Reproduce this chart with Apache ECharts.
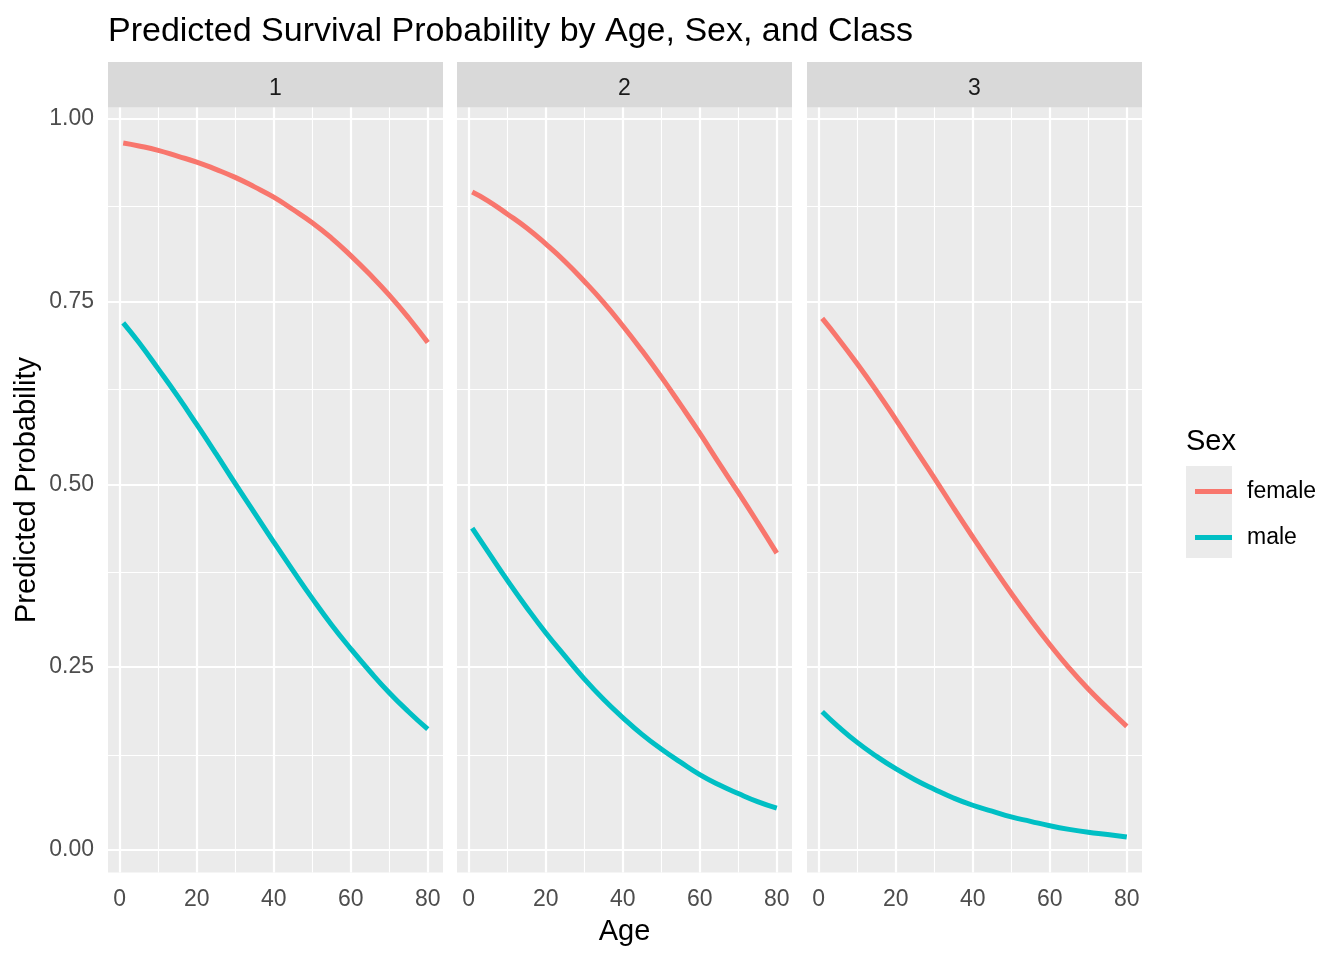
<!DOCTYPE html>
<html>
<head>
<meta charset="utf-8">
<script src="https://cdn.jsdelivr.net/npm/echarts@6/dist/echarts.min.js"></script>
<style>html,body{margin:0;padding:0;background:#fff}#c{width:1344px;height:960px}</style>
</head>
<body>
<div id="c"></div>
<script>
// ---- data ----
const ages = [0.92, 5, 10, 15, 20, 25, 30, 35, 40, 45, 50, 55, 60, 65, 70, 75, 80];
const classLabels = ['1', '2', '3'];
const sexLabels = ['female', 'male'];
const class1Female = [0.967, 0.963, 0.957, 0.949, 0.941, 0.931, 0.920, 0.907, 0.893, 0.876, 0.858, 0.837, 0.813, 0.787, 0.759, 0.728, 0.694];
const class1Male   = [0.721, 0.694, 0.658, 0.621, 0.582, 0.542, 0.501, 0.461, 0.421, 0.382, 0.344, 0.308, 0.275, 0.244, 0.215, 0.189, 0.165];
const class2Female = [0.900, 0.888, 0.870, 0.851, 0.829, 0.805, 0.778, 0.749, 0.717, 0.683, 0.647, 0.609, 0.570, 0.529, 0.489, 0.448, 0.406];
const class2Male   = [0.440, 0.408, 0.369, 0.332, 0.297, 0.265, 0.234, 0.206, 0.181, 0.158, 0.138, 0.120, 0.103, 0.089, 0.077, 0.066, 0.057];
const class3Female = [0.727, 0.700, 0.665, 0.628, 0.589, 0.549, 0.509, 0.468, 0.428, 0.389, 0.351, 0.315, 0.281, 0.249, 0.220, 0.194, 0.169];
const class3Male   = [0.189, 0.169, 0.147, 0.128, 0.111, 0.096, 0.083, 0.071, 0.061, 0.053, 0.045, 0.039, 0.033, 0.028, 0.024, 0.021, 0.0175];
const xTicks = [0, 20, 40, 60, 80];
const xMinor = [10, 30, 50, 70];
const yTicks = [0, 0.25, 0.5, 0.75, 1.0];
const yMinor = [0.125, 0.375, 0.625, 0.875];

const panelValues = [
  [class1Female, class1Male],
  [class2Female, class2Male],
  [class3Female, class3Male]
];
const colors = ['#F8766D', '#00BFC4'];
const FONT = '"Liberation Sans", Arial, sans-serif';

const gridLefts = [108, 457, 807];
const PW = 335, PT = 107.5, PH = 765;

const grids = [], xAxes = [], yAxes = [], series = [], graphics = [];

gridLefts.forEach((left, i) => {
  grids.push({left: left, top: PT, width: PW, height: PH, show: true, backgroundColor: '#EBEBEB', borderWidth: 0, containLabel: false});
  xAxes.push({
    type: 'value', gridIndex: i, min: -3.034, max: 83.954,
    axisLine: {show: false},
    splitLine: {show: false},
    axisTick: {show: true, customValues: xTicks, length: 7, lineStyle: {color: '#333333', width: 2}},
    axisLabel: {show: true, customValues: xTicks, color: '#4D4D4D', fontSize: 23, fontFamily: FONT, margin: 16},
    name: i === 1 ? 'Age' : '', nameLocation: 'middle', nameGap: 45,
    nameTextStyle: {color: '#000', fontSize: 29, fontFamily: FONT}
  });
  yAxes.push({
    type: 'value', gridIndex: i, min: -0.031, max: 1.0156,
    axisLine: {show: false},
    splitLine: {show: false},
    axisTick: {show: i === 0, customValues: yTicks, length: 7, lineStyle: {color: '#333333', width: 2}},
    axisLabel: {show: i === 0, customValues: yTicks, color: '#4D4D4D', fontSize: 23, fontFamily: FONT, margin: 14,
      padding: [4, 0, 0, 0], formatter: v => v.toFixed(2)},
    name: i === 0 ? 'Predicted Probability' : '', nameLocation: 'middle', nameGap: 67, nameRotate: 90,
    nameTextStyle: {color: '#000', fontSize: 29, fontFamily: FONT}
  });
  const gridLines = [];
  yTicks.forEach(v => gridLines.push({yAxis: v, lineStyle: {width: 2.2}}));
  yMinor.forEach(v => gridLines.push({yAxis: v, lineStyle: {width: 1.1}}));
  xTicks.forEach(v => gridLines.push({xAxis: v, lineStyle: {width: 2.2}}));
  xMinor.forEach(v => gridLines.push({xAxis: v, lineStyle: {width: 1.1}}));
  sexLabels.forEach((sex, s) => {
    const vals = panelValues[i][s];
    const ser = {
      name: sex, type: 'line', xAxisIndex: i, yAxisIndex: i,
      data: ages.map((a, k) => [a, vals[k]]),
      showSymbol: false, symbol: 'none', smooth: true,
      lineStyle: {color: colors[s], width: 5}, itemStyle: {color: colors[s]},
      z: 3, silent: true
    };
    if (s === 0) {
      ser.markLine = {silent: true, symbol: ['none', 'none'], z: 1, animation: false,
        label: {show: false}, emphasis: {disabled: true},
        lineStyle: {color: '#FFFFFF', type: 'solid'}, data: gridLines};
    }
    series.push(ser);
  });
  graphics.push({type: 'rect', shape: {x: left, y: 62, width: PW, height: 45.5}, style: {fill: '#D9D9D9'}});
  graphics.push({type: 'text', x: left + PW / 2, y: 88.5, style: {text: classLabels[i], fill: '#1A1A1A', font: '23px ' + FONT, textAlign: 'center', textVerticalAlign: 'middle'}});
});

graphics.push({type: 'rect', shape: {x: 1186, y: 466, width: 46, height: 92}, style: {fill: '#EBEBEB'}, z: 0});

const option = {
  animation: false,
  backgroundColor: '#FFFFFF',
  title: [
    {text: 'Predicted Survival Probability by Age, Sex, and Class', left: 103, top: 10,
      textStyle: {color: '#000', fontSize: 34, fontWeight: 'normal', fontFamily: FONT}},
    {text: 'Sex', left: 1181, top: 422, textStyle: {color: '#000', fontSize: 29, fontWeight: 'normal', fontFamily: FONT}}
  ],
  legend: {
    data: sexLabels, orient: 'vertical', left: 1190, top: 475,
    icon: 'rect', itemWidth: 37, itemHeight: 5, itemGap: 23,
    textStyle: {color: '#000', fontSize: 23, fontFamily: FONT, padding: [0, 0, 0, 10]},
    selectedMode: false
  },
  grid: grids, xAxis: xAxes, yAxis: yAxes, series: series, graphic: graphics
};
const chart = echarts.init(document.getElementById('c'), null, {renderer: 'canvas'});
chart.setOption(option);
</script>
</body>
</html>
